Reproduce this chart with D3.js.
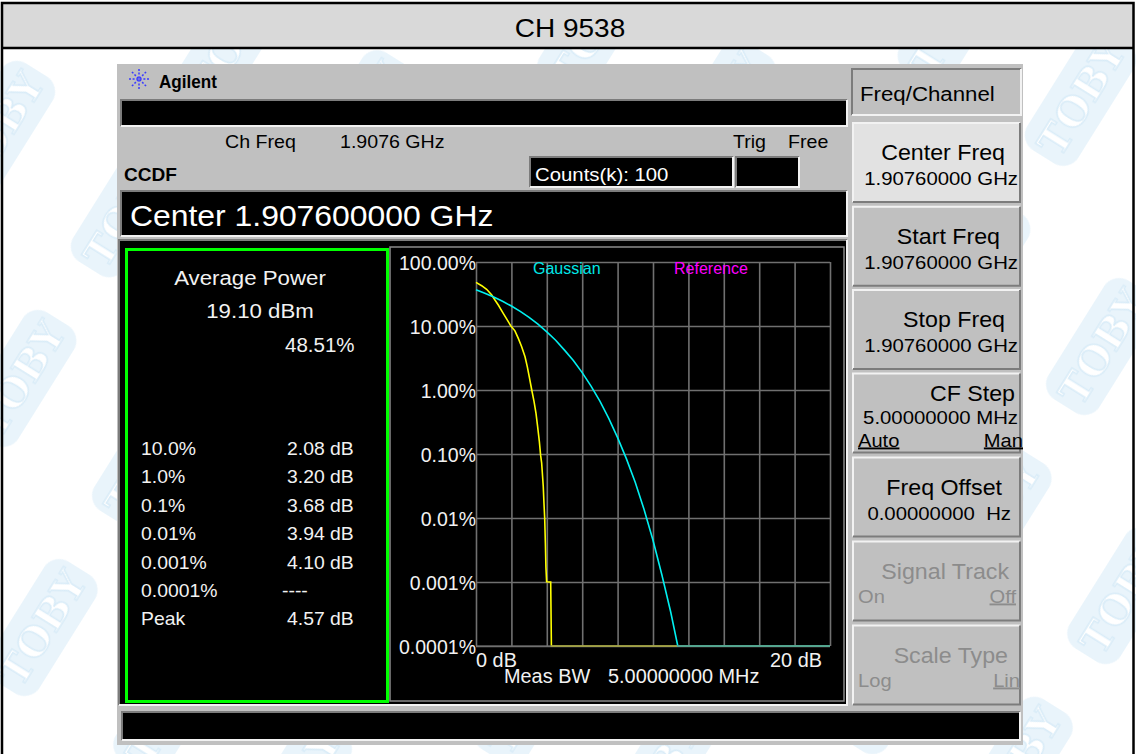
<!DOCTYPE html>
<html>
<head>
<meta charset="utf-8">
<title>CH 9538 - CCDF</title>
<script src="https://cdnjs.cloudflare.com/ajax/libs/d3/7.8.5/d3.min.js"></script>
<style>
  body { margin: 0; background: #fff; }
  svg { display: block; font-family: "Liberation Sans", Arial, Helvetica, sans-serif; }
</style>
</head>
<body>
<div id="chart"></div>
<script>
// Chart values
var title = "CH 9538";

var yTicks = [100, 10, 1, 0.1, 0.01, 0.001, 0.0001];
var yTickLabels = ["100.00%", "10.00%", "1.00%", "0.10%", "0.01%", "0.001%", "0.0001%"];
var xTicks = [0, 2, 4, 6, 8, 10, 12, 14, 16, 18, 20];

// measured trace (yellow), dB above average vs probability %
var measuredDb  = [0, 0.32, 0.6, 0.89, 1.07, 1.26, 1.54, 1.73, 1.96, 2.2, 2.39, 2.58, 2.77, 2.9, 3.01, 3.15, 3.28, 3.39, 3.48, 3.58, 3.65, 3.71, 3.8, 3.84, 3.88, 3.92, 3.95, 3.99, 4.22, 4.26, 20];
var measuredPct = [48.1, 42.6, 37.4, 30.5, 25.5, 21.3, 15.8, 12.9, 10.1, 8.4, 6.4, 4.75, 3.3, 2.3, 1.6, 1.0, 0.66, 0.43, 0.27, 0.156, 0.096, 0.072, 0.031, 0.017, 0.0101, 0.004, 0.0017, 0.00101, 0.001, 0.0001, 0.0001];

// gaussian reference trace (cyan)
var gaussianDb  = [0, 0.5, 1, 1.5, 2, 2.5, 3, 3.5, 4, 4.5, 5, 5.5, 6, 6.5, 7, 7.5, 8, 8.5, 9, 9.5, 10, 10.5, 11, 11.4, 20];
var gaussianPct = [36.8, 32.6, 28.4, 24.3, 20.5, 16.9, 13.6, 10.7, 8.1, 6.0, 4.2, 2.9, 1.87, 1.15, 0.67, 0.36, 0.18, 0.084, 0.036, 0.0135, 0.0045, 0.0013, 0.00034, 0.0001, 0.0001];

var statLabels = ["10.0%", "1.0%", "0.1%", "0.01%", "0.001%", "0.0001%", "Peak"];
var statValues = ["2.08 dB", "3.20 dB", "3.68 dB", "3.94 dB", "4.10 dB", "----", "4.57 dB"];
var avgPower = "19.10 dBm";
var avgPct = "48.51%";

var keyTitles  = ["Center Freq", "Start Freq", "Stop Freq", "CF Step", "Freq Offset", "Signal Track", "Scale Type"];
var keyValues  = ["1.90760000 GHz", "1.90760000 GHz", "1.90760000 GHz", "5.00000000 MHz", "0.00000000  Hz", "", ""];
var keyOptions = [null, null, null, ["Auto", "Man"], null, ["On", "Off"], ["Log", "Lin"]];

// Define SVG area dimensions
var svgWidth = 1136;
var svgHeight = 754;

var svg = d3.select("#chart")
    .append("svg")
    .attr("width", svgWidth)
    .attr("height", svgHeight);

// small helper for text, slightly widened like the instrument font
function txt(g, x, y, s, o) {
  o = o || {};
  return g.append("text")
    .attr("transform", `translate(${x},${y}) scale(${o.sx || 1.06},1)`)
    .attr("text-anchor", o.anchor || "start")
    .attr("font-size", o.size || 18)
    .attr("font-weight", o.weight || "normal")
    .attr("fill", o.fill || "#000")
    .style("text-decoration", o.underline ? "underline" : null)
    .style("white-space", "pre")
    .text(s);
}

// box with 3d edges (inset = dark top/left)
function bevelBox(g, x, y, w, h, fill, inset) {
  var dark = "#7c7c7c", light = "#f2f2f2";
  g.append("rect").attr("x", x).attr("y", y).attr("width", w).attr("height", h).attr("fill", fill);
  var tl = inset ? dark : light, br = inset ? light : dark;
  g.append("path").attr("d", `M${x},${y + h} V${y} H${x + w}`)
    .attr("fill", "none").attr("stroke", tl).attr("stroke-width", 2);
  g.append("path").attr("d", `M${x + w},${y} V${y + h} H${x}`)
    .attr("fill", "none").attr("stroke", br).attr("stroke-width", 2);
}

// watermark stamps in the background
var defs = svg.append("defs");
var pat = defs.append("pattern")
    .attr("id", "wm")
    .attr("patternUnits", "userSpaceOnUse")
    .attr("width", 200)
    .attr("height", 150)
    .attr("patternTransform", "rotate(-58)");
pat.append("rect")
    .attr("x", 20).attr("y", 38).attr("width", 140).attr("height", 60).attr("rx", 18)
    .attr("fill", "#e9f4fb");
pat.append("text")
    .attr("x", 90).attr("y", 83)
    .attr("text-anchor", "middle")
    .attr("font-family", "'DejaVu Serif', serif")
    .attr("font-weight", "bold")
    .attr("font-size", 40)
    .attr("fill", "#ffffff")
    .attr("stroke", "#d9ecf8")
    .attr("stroke-width", 1.5)
    .text("TOBY");
svg.append("rect").attr("x", 0).attr("y", 48).attr("width", svgWidth).attr("height", svgHeight - 48)
    .attr("fill", "url(#wm)");

// header band with the title
svg.append("rect").attr("x", 3).attr("y", 4).attr("width", 1130).attr("height", 44).attr("fill", "#d9d9d9");
svg.append("line").attr("x1", 2).attr("x2", 1134).attr("y1", 48).attr("y2", 48)
    .attr("stroke", "#000").attr("stroke-width", 2.5);
svg.append("rect").attr("x", 2).attr("y", 3).attr("width", 1131.5).attr("height", 770)
    .attr("fill", "none").attr("stroke", "#000").attr("stroke-width", 2.5);
txt(svg, 570, 37, title, {size: 25, anchor: "middle", sx: 1.12});

// instrument screen
var scr = svg.append("g");
scr.append("rect").attr("x", 117).attr("y", 64).attr("width", 906).attr("height", 681).attr("fill", "#c0c0c0");

// Agilent logo
var logo = scr.append("g").attr("transform", "translate(139,79)");
[0, 45, 90, 135].forEach(function(a) {
  logo.append("line")
    .attr("x1", -10).attr("x2", 10).attr("y1", 0).attr("y2", 0)
    .attr("transform", `rotate(${a})`)
    .attr("stroke", "#3a3aff").attr("stroke-width", 1.5)
    .attr("stroke-dasharray", "2,1.6");
});
txt(scr, 159, 88, "Agilent", {size: 19, weight: "bold", sx: 0.9});

bevelBox(scr, 121, 100, 726, 26, "#000", true);
txt(scr, 225, 148, "Ch Freq", {size: 18.5});
txt(scr, 340, 148, "1.9076 GHz", {size: 18.5});
txt(scr, 733, 148, "Trig", {size: 18.5});
txt(scr, 788, 148, "Free", {size: 18.5});

txt(scr, 124, 181, "CCDF", {size: 18, weight: "bold"});
bevelBox(scr, 530, 157, 203, 30, "#000", true);
bevelBox(scr, 736, 157, 63, 30, "#000", true);
txt(scr, 535, 181, "Counts(k): 100", {size: 18.5, fill: "#fff", sx: 1.1});

bevelBox(scr, 121, 191, 726, 45, "#000", true);
txt(scr, 130, 226, "Center 1.907600000 GHz", {size: 29, fill: "#fff", sx: 1.1});

// main display area
bevelBox(scr, 119, 240, 728, 465, "#000", true);
scr.append("rect").attr("x", 126.5).attr("y", 249.5).attr("width", 261).attr("height", 452)
    .attr("fill", "none").attr("stroke", "#00ff00").attr("stroke-width", 3);
scr.append("rect").attr("x", 390).attr("y", 247).attr("width", 454).attr("height", 454)
    .attr("fill", "none").attr("stroke", "#8a8a8a").attr("stroke-width", 1.5);

// statistics panel
var white = "#f2f2f2";
txt(scr, 250, 285, "Average Power", {size: 21, anchor: "middle", fill: white});
txt(scr, 260, 318, avgPower, {size: 21, anchor: "middle", fill: white});
txt(scr, 285, 352, avgPct, {size: 20.5, fill: white, sx: 1.0});
statLabels.forEach(function(s, i) {
  var yy = 455 + i * 28.4;
  txt(scr, 141, yy, s, {size: 19, fill: white, sx: 1.02});
  txt(scr, statValues[i] === "----" ? 282 : 287, yy, statValues[i], {size: 19, fill: white, sx: 1.02});
});

// CCDF plot
var plotLeft = 476, plotRight = 830, plotTop = 262, plotBottom = 646;
var x = d3.scaleLinear().domain([0, 20]).range([plotLeft, plotRight]);
var y = d3.scaleLog().domain([0.0001, 100]).range([plotBottom, plotTop]);

var plot = scr.append("g");

var leftAxis = d3.axisLeft(y)
    .tickValues(yTicks)
    .tickFormat(function(d, i) { return yTickLabels[i]; })
    .tickSize(-(plotRight - plotLeft))
    .tickPadding(0);
var gy = plot.append("g")
    .attr("transform", `translate(${plotLeft},0)`)
    .call(leftAxis);

var bottomAxis = d3.axisBottom(x)
    .tickValues(xTicks)
    .tickFormat("")
    .tickSize(-(plotBottom - plotTop));
var gx = plot.append("g")
    .attr("transform", `translate(0,${plotBottom})`)
    .call(bottomAxis);

plot.selectAll(".domain").remove();
plot.selectAll(".tick line").attr("stroke", "#707070").attr("stroke-width", 1.6);
gy.selectAll(".tick text")
    .attr("fill", white)
    .attr("font-size", 19.5)
    .attr("font-family", "'Liberation Sans', Arial, sans-serif")
    .attr("dy", "0.36em");

// traces
var line = d3.line()
    .x(function(d) { return x(d[0]); })
    .y(function(d) { return y(d[1]); });

var measured = measuredDb.map(function(d, i) { return [d, measuredPct[i]]; });
var gaussian = gaussianDb.map(function(d, i) { return [d, gaussianPct[i]]; });

plot.append("path").datum(measured)
    .attr("d", line)
    .attr("fill", "none").attr("stroke", "#ffff00").attr("stroke-width", 1.6);
plot.append("path").datum(gaussian)
    .attr("d", line)
    .attr("fill", "none").attr("stroke", "#00f0f0").attr("stroke-width", 1.6);

// the floor grid line sits over the traces and dims them
plot.append("line")
    .attr("x1", x(0)).attr("x2", x(20)).attr("y1", y(0.0001)).attr("y2", y(0.0001))
    .attr("stroke", "#707070").attr("stroke-width", 2).attr("opacity", 0.55);

// legend and axis texts
txt(plot, 533, 274, "Gaussian", {size: 16, fill: "#00e8e8", sx: 1.0});
txt(plot, 674, 274, "Reference", {size: 16, fill: "#ff00ff", sx: 1.0});
txt(plot, x(0), 667, "0 dB", {size: 19.5, fill: white, sx: 1.02});
txt(plot, x(20) - 8, 667, "20 dB", {size: 19.5, fill: white, anchor: "end", sx: 1.02});
txt(plot, 504, 683, "Meas BW", {size: 19.5, fill: white, sx: 1.02});
txt(plot, 608, 683, "5.00000000 MHz", {size: 19.5, fill: white, sx: 1.02});

// bottom status bar
bevelBox(scr, 122, 712, 898, 28, "#000", true);

// softkeys
bevelBox(scr, 852, 69, 169, 46, "#c0c0c0", true);
txt(scr, 860, 101, "Freq/Channel", {size: 21});

var keyTops = [123, 206.7, 290, 373.5, 457.5, 541.5, 625.5];
var keyLabelRight = [1005, 1000, 1005, 1015, 1002, 1009, 1008];
var keyValueRight = [1018, 1018, 1018, 1018, 1011, 0, 0];
keyTitles.forEach(function(t, i) {
  var top = keyTops[i];
  var disabled = i >= 5;
  var col = disabled ? "#8c8c8c" : "#000";
  bevelBox(scr, 853, top, 167, 79, i === 0 ? "#e2e2e2" : "#c0c0c0", false);
  var ly = i === 3 ? top + 27 : top + 37;
  txt(scr, keyLabelRight[i], ly, t, {size: 21.5, anchor: "end", fill: col, sx: 1.08});
  if (keyValues[i]) {
    txt(scr, keyValueRight[i], i === 3 ? top + 50 : top + 62, keyValues[i], {size: 18.5, anchor: "end", fill: col, sx: 1.1});
  }
  if (keyOptions[i]) {
    var oy = i === 3 ? top + 73 : top + 61;
    var rightX = i === 3 ? 1023 : (i === 5 ? 1016 : 1020);
    txt(scr, 858, oy, keyOptions[i][0], {size: 19, fill: col, underline: i === 3});
    txt(scr, rightX, oy, keyOptions[i][1], {size: 19, anchor: "end", fill: col, underline: true});
  }
});
</script>
</body>
</html>
